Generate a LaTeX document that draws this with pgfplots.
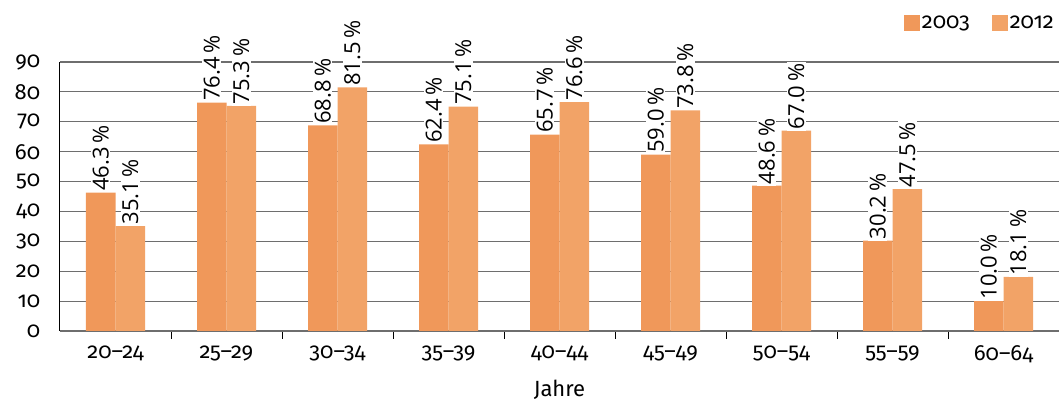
\documentclass[border=0pt]{standalone}
\usepackage{fontspec}
\setmainfont{Fira Sans}[Numbers=OldStyle]
\newfontfamily\labelfont{Open Sans}
\usepackage{pgfplots}
\pgfplotsset{compat=1.18}
\definecolor{cA}{RGB}{240,152,90}
\definecolor{cB}{RGB}{242,163,103}
\definecolor{gridc}{RGB}{110,110,110}
\begin{document}
\begin{tikzpicture}
\begin{axis}[
  name=ax,
  scale only axis,
  width=999pt, height=269pt,
  xmin=-0.5, xmax=8.5,
  ymin=0, ymax=90,
  ybar=0pt, bar width=29.5pt,
  axis x line*=bottom, axis y line*=left,
  axis line style={black, line width=1pt},
  x axis line style={gridc, line width=1.2pt},
  xtick={0,...,8},
  xticklabels={20–24,25–29,30–34,35–39,40–44,45–49,50–54,55–59,60–64},
  major x tick style={draw=none},
  minor xtick={0.5,1.5,...,7.5},
  minor x tick style={black, line width=1pt},
  minor tick length=8pt,
  xtick pos=bottom,
  tick align=outside,
  ytick={0,10,...,90},
  major y tick style={draw=none},
  ymajorgrids,
  grid style={gridc, line width=1.2pt},
  /pgf/number format/assume math mode=true,
  tick label style={font=\fontsize{22}{26}\selectfont},
  yticklabel style={xshift=-12pt},
  xticklabel style={yshift=-7pt},
  xlabel={Jahre},
  xlabel style={font=\fontsize{22}{26}\selectfont, yshift=-10pt},
  clip=false,
  nodes near coords={\pgfmathprintnumber[fixed,fixed zerofill,precision=1]{\pgfplotspointmeta}\,\%},
  every node near coord/.append style={font=\labelfont\fontsize{22}{26}\selectfont, rotate=90, anchor=west, fill=white, inner sep=1.5pt, text=black},
  legend style={at={(rel axis cs:1,1)}, anchor=east, yshift=39pt, draw=none, fill=none,
    font=\fontsize{22}{26}\selectfont, legend columns=2,
    /tikz/every even column/.append style={column sep=20pt}},
  legend image code/.code={\fill[#1] (0pt,-8pt) rectangle (16pt,8pt);},
]
\addplot[fill=cA, draw=none] coordinates {(0,46.3) (1,76.4) (2,68.8) (3,62.4) (4,65.7) (5,59.0) (6,48.6) (7,30.2) (8,10.0)};
\addplot[fill=cB, draw=none] coordinates {(0,35.1) (1,75.3) (2,81.5) (3,75.1) (4,76.6) (5,73.8) (6,67.0) (7,47.5) (8,18.1)};
\legend{2003,2012}
\end{axis}
\pgfresetboundingbox
\path[use as bounding box] ([xshift=-60pt,yshift=-76pt]ax.south west) rectangle ([yshift=62pt]ax.north east);
\end{tikzpicture}
\end{document}
